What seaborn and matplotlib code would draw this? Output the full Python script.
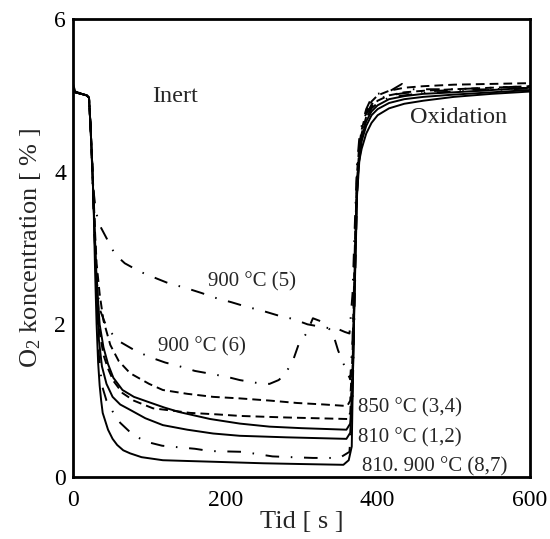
import numpy as np
import pandas as pd
import matplotlib
matplotlib.use("Agg")
import matplotlib.pyplot as plt
import seaborn as sns

# =========================
# DATA
# =========================

# 810 C (1), solid
t_1 = [0, 18, 21, 23, 25, 27, 29, 31, 35, 40, 46, 53, 65, 80, 97, 120, 140, 180, 219, 258, 300, 359, 364,
       367, 370, 373, 376, 379, 385, 392, 400, 415, 435, 460, 500, 550, 600]
y_1 = [5.05, 5.0, 4.97, 4.6, 4.15, 3.6, 3.1, 2.6, 2.0, 1.7, 1.48, 1.3, 1.14, 1.05, 0.99, 0.91, 0.85, 0.76, 0.70, 0.66, 0.64, 0.62, 0.7,
       1.2, 2.6, 3.8, 4.2, 4.45, 4.66, 4.79, 4.87, 4.95, 4.99, 5.02, 5.04, 5.07, 5.10]

# 810 C (2), solid
t_2 = [0, 18, 21, 23, 25, 27, 29, 31, 34, 38, 44, 52, 62, 75, 95, 118, 150, 184, 219, 280, 359, 364,
       367, 370, 373, 376, 379, 385, 392, 400, 415, 435, 460, 500, 550, 600]
y_2 = [5.05, 5.0, 4.97, 4.6, 4.15, 3.6, 3.0, 2.5, 1.8, 1.45, 1.22, 1.05, 0.95, 0.88, 0.77, 0.68, 0.62, 0.57, 0.54, 0.52, 0.50, 0.58,
       1.1, 2.5, 3.7, 4.15, 4.40, 4.60, 4.74, 4.82, 4.90, 4.95, 4.98, 5.01, 5.04, 5.07]

# 850 C (3), dashed
t_3 = [0, 18, 21, 23, 25, 27, 29, 31, 35, 40, 49, 60, 75, 100, 118, 150, 184, 219, 260, 294, 330, 360, 364,
       367, 370, 373, 376, 379, 385, 392, 400, 415, 435, 460, 500, 550, 600]
y_3 = [5.05, 5.0, 4.97, 4.6, 4.15, 3.7, 3.2, 2.8, 2.4, 2.05, 1.73, 1.52, 1.36, 1.22, 1.14, 1.09, 1.05, 1.03, 1.0, 0.97, 0.95, 0.93, 1.0,
       1.6, 3.0, 4.0, 4.35, 4.55, 4.78, 4.92, 5.0, 5.06, 5.10, 5.12, 5.14, 5.15, 5.16]

# 850 C (4), dashed
t_4 = [0, 18, 21, 23, 25, 27, 29, 31, 35, 40, 46, 53, 65, 80, 105, 130, 154, 190, 220, 280, 360, 364,
       367, 370, 373, 376, 379, 385, 392, 400, 415, 435, 460, 500, 550, 600]
y_4 = [5.05, 5.0, 4.97, 4.6, 4.15, 3.65, 3.1, 2.6, 1.9, 1.6, 1.42, 1.26, 1.1, 1.0, 0.90, 0.87, 0.84, 0.82, 0.80, 0.78, 0.76, 0.84,
       1.4, 2.8, 3.9, 4.3, 4.50, 4.72, 4.85, 4.93, 5.00, 5.04, 5.06, 5.08, 5.10, 5.12]

# 900 C (5), dash-dot
t_5 = [0, 3, 18, 21, 23, 25, 27, 30, 35, 44, 55, 68, 88, 110, 125, 147, 169, 186, 208, 228, 248, 268, 289, 308,
       330, 350, 357, 363, 367, 370, 373, 376, 379, 385, 392, 400, 415, 432, 445, 460, 500, 550, 600]
y_5 = [5.15, 5.05, 5.0, 4.97, 4.6, 4.15, 3.75, 3.48, 3.3, 3.13, 2.92, 2.8, 2.69, 2.6, 2.54, 2.48, 2.41, 2.35, 2.29, 2.23, 2.18, 2.12, 2.07, 2.0,
       1.96, 1.93, 1.9, 1.88, 2.4, 3.3, 4.1, 4.45, 4.6, 4.82, 4.97, 5.02, 5.05, 5.15, 5.08, 5.08, 5.08, 5.10, 5.12]

# 900 C (6), dash-dot
t_6 = [0, 18, 21, 23, 25, 27, 29, 31, 35, 42, 49, 62, 81, 101, 121, 140, 160, 182, 203, 219, 243, 258, 270, 278,
       289, 296, 307, 315, 328, 341, 348, 357, 364, 367, 370, 373, 376, 379, 385, 392, 400, 415, 435, 460, 500, 550, 600]
y_6 = [5.05, 5.0, 4.97, 4.6, 4.1, 3.5, 3.0, 2.6, 2.2, 2.02, 1.9, 1.77, 1.66, 1.57, 1.5, 1.45, 1.39, 1.35, 1.31, 1.27, 1.23, 1.22, 1.27, 1.34,
       1.53, 1.73, 1.89, 2.08, 2.03, 1.89, 1.66, 1.44, 1.28, 1.8, 3.0, 4.0, 4.35, 4.55, 4.75, 4.88, 4.95, 5.0, 5.03, 5.05, 5.07, 5.08, 5.10]

# 900 C (7), dash-dot
t_7 = [0, 18, 21, 23, 25, 27, 29, 31, 34, 38, 44, 52, 62, 79, 97, 117, 138, 160, 180, 223, 249, 262, 287, 315, 350, 363,
       367, 370, 373, 376, 379, 385, 392, 400, 415, 435, 460, 500, 550, 600]
y_7 = [5.05, 5.0, 4.97, 4.6, 4.15, 3.6, 3.0, 2.5, 1.6, 1.2, 1.0, 0.86, 0.71, 0.55, 0.46, 0.41, 0.39, 0.37, 0.34, 0.33, 0.29, 0.27, 0.26, 0.25, 0.25, 0.33,
       1.0, 2.4, 3.7, 4.2, 4.50, 4.70, 4.83, 4.90, 4.97, 5.00, 5.03, 5.05, 5.07, 5.09]

# 810 C (8), solid
t_8 = [0, 18, 21, 23, 25, 27, 29, 31, 33, 35, 37, 39, 46, 52, 58, 66, 75, 90, 118, 150, 184, 250, 300, 355, 362,
       366, 369, 372, 375, 379, 385, 392, 400, 415, 435, 460, 500, 550, 600]
y_8 = [5.05, 5.0, 4.97, 4.6, 4.15, 3.6, 2.7, 2.0, 1.5, 1.2, 1.0, 0.84, 0.62, 0.5, 0.42, 0.35, 0.31, 0.26, 0.22, 0.21, 0.20, 0.18, 0.17, 0.16, 0.22,
       0.4, 2.2, 3.6, 4.1, 4.30, 4.50, 4.64, 4.74, 4.83, 4.89, 4.93, 4.98, 5.02, 5.05]

runs = {
    '1': (t_1, y_1, 'solid'),
    '2': (t_2, y_2, 'solid'),
    '3': (t_3, y_3, 'dashed'),
    '4': (t_4, y_4, 'dashed'),
    '5': (t_5, y_5, 'dashdot'),
    '6': (t_6, y_6, 'dashdot'),
    '7': (t_7, y_7, 'dashdot'),
    '8': (t_8, y_8, 'solid'),
}

frames = []
for name, (t, y, kind) in runs.items():
    frames.append(pd.DataFrame({'tid': t, 'o2': y, 'run': name, 'kind': kind}))
df = pd.concat(frames, ignore_index=True)

# =========================
# STYLE
# =========================

sns.set_style('white')
plt.rcParams['font.family'] = ['Liberation Serif', 'DejaVu Serif']
plt.rcParams['mathtext.fontset'] = 'custom'
plt.rcParams['mathtext.rm'] = 'Liberation Serif'
plt.rcParams['mathtext.it'] = 'Liberation Serif:italic'

fig = plt.figure(figsize=(5.5, 5.39), dpi=100)
ax = fig.add_axes([0.1327, 0.115, 0.8309, 0.8497])

# =========================
# PLOT
# =========================

sns.lineplot(
    data=df, x='tid', y='o2', units='run', style='kind',
    estimator=None, sort=False, color='black', linewidth=1.4,
    dashes={'solid': '', 'dashed': (4.5, 2.6), 'dashdot': (7, 6, 0.8, 6)},
    legend=False, ax=ax,
)

ax.set_xlim(0, 600)
ax.set_ylim(0, 6)
ax.set_xticks([0, 200, 400, 600])
ax.set_yticks([0, 2, 4, 6])
ax.set_yticks([1, 3, 5], minor=True)

for side in ['left', 'bottom', 'right', 'top']:
    ax.spines[side].set_linewidth(2)
    ax.spines[side].set_color('black')

ax.tick_params(axis='both', which='major', direction='in', length=10, width=2,
               labelsize=17, colors='black')
ax.tick_params(axis='x', which='major', pad=9)
ax.tick_params(axis='y', which='major', pad=5)
ax.tick_params(axis='y', which='minor', direction='in', length=5, width=2)

ax.set_xlabel('Tid [ s ]', fontsize=19, labelpad=0)
ax.set_ylabel(r'O$_\mathrm{2}$ koncentration [ % ]', fontsize=19, labelpad=8)

# annotations
ax.text(104, 4.91, 'Inert', fontsize=17.5, va='baseline')
ax.text(442, 4.64, 'Oxidation', fontsize=17.5, va='baseline')
ax.text(177, 2.49, '900 °C (5)', fontsize=15, va='baseline')
ax.text(112, 1.64, '900 °C (6)', fontsize=15, va='baseline')
ax.text(374, 0.84, '850 °C (3,4)', fontsize=15, va='baseline')
ax.text(374, 0.45, '810 °C (1,2)', fontsize=15, va='baseline')
ax.text(380, 0.07, '810. 900 °C (8,7)', fontsize=15, va='baseline')

plt.savefig('out.png', dpi=100)
